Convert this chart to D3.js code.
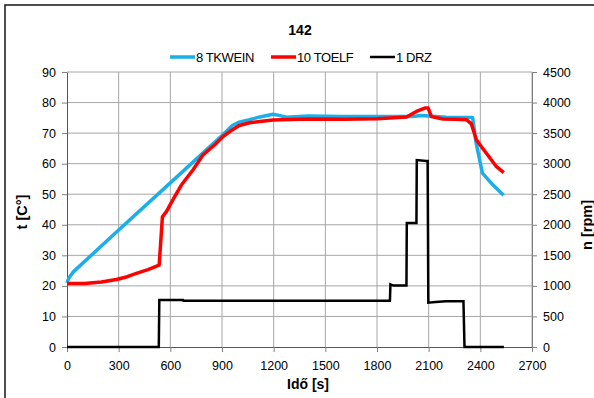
<!DOCTYPE html>
<html>
<head>
<meta charset="utf-8">
<script src="https://cdn.jsdelivr.net/npm/d3@7"></script>
<style>
  body { margin: 0; background: #fff; }
  text { font-family: "Liberation Sans", Arial, sans-serif; fill: #000; }
</style>
</head>
<body>
<div id="chart"></div>
<script>
var svgWidth = 594;
var svgHeight = 398;

var margin = { top: 72, right: 62, bottom: 51, left: 67 };
var chartWidth = 532 - margin.left;
var chartHeight = 347 - margin.top;

// time [s] and values
var tkweinTime = [0, 10, 35, 300, 600, 900, 960, 1000, 1060, 1120, 1196, 1230, 1275, 1400, 1600, 1800, 2000, 2060, 2200, 2355, 2375, 2412, 2474, 2535];
var tkweinTemp = [21, 22.5, 24.5, 38.3, 53.7, 69.2, 72.5, 73.6, 74.4, 75.3, 76.2, 75.8, 75.2, 75.6, 75.4, 75.4, 75.4, 75.8, 75.2, 75.1, 67, 56.9, 53, 49.7];

var toelfTime = [0, 100, 200, 287, 350, 403, 470, 535, 545, 554, 577, 625, 664, 732, 790, 858, 906, 945, 1000, 1060, 1120, 1196, 1400, 1600, 1800, 1900, 1971, 2029, 2077, 2097, 2116, 2183, 2250, 2319, 2348, 2377, 2435, 2494, 2536];
var toelfTemp = [20.8, 20.8, 21.3, 22.1, 23, 24.1, 25.3, 26.8, 35, 42.6, 44.3, 49.2, 53, 58, 62.9, 66.2, 68.9, 70.5, 72.5, 73.4, 73.8, 74.3, 74.6, 74.5, 74.7, 75, 75.3, 77.1, 78.2, 78.2, 75.4, 74.6, 74.5, 74.4, 73, 67.8, 63.4, 59, 57.1];

var drzTime = [0, 533, 536, 674, 676, 1875, 1878, 1895, 1971, 1973, 2029, 2031, 2087, 2094, 2098, 2140, 2200, 2302, 2308, 2537];
var drzRpm = [0, 0, 770, 770, 755, 755, 1025, 1005, 1005, 2030, 2030, 3060, 3045, 3045, 725, 735, 750, 750, 0, 0];

var xTicks = [0, 300, 600, 900, 1200, 1500, 1800, 2100, 2400, 2700];
var yTicks = [0, 10, 20, 30, 40, 50, 60, 70, 80, 90];
var rpmTicks = [0, 500, 1000, 1500, 2000, 2500, 3000, 3500, 4000, 4500];

var seriesNames = ["8 TKWEIN", "10 TOELF", "1 DRZ"];
var seriesColors = ["#1AAEEA", "#FF0000", "#000000"];

var svg = d3.select("#chart")
  .append("svg")
  .attr("width", svgWidth)
  .attr("height", svgHeight);

// outer frame (right and bottom edges fall outside the picture)
svg.append("rect")
  .attr("x", 5).attr("y", 5)
  .attr("width", 600).attr("height", 400)
  .attr("fill", "none")
  .attr("stroke", "#222")
  .attr("stroke-width", 1.6);

var chartGroup = svg.append("g")
  .attr("transform", `translate(${margin.left}, ${margin.top})`);

var xScale = d3.scaleLinear().domain([0, 2700]).range([0, chartWidth]);
var yScale = d3.scaleLinear().domain([0, 90]).range([chartHeight, 0]);
var rpmScale = d3.scaleLinear().domain([0, 4500]).range([chartHeight, 0]);

// grid
chartGroup.append("g")
  .selectAll("line")
  .data(xTicks.slice(1))
  .enter()
  .append("line")
  .attr("x1", d => xScale(d)).attr("x2", d => xScale(d))
  .attr("y1", 0).attr("y2", chartHeight)
  .attr("stroke", "#a6a6a6").attr("stroke-width", 1);

chartGroup.append("g")
  .selectAll("line")
  .data(yTicks.slice(1))
  .enter()
  .append("line")
  .attr("x1", 0).attr("x2", chartWidth)
  .attr("y1", d => yScale(d)).attr("y2", d => yScale(d))
  .attr("stroke", "#a6a6a6").attr("stroke-width", 1);

// axes
var fmt = d3.format("d");
var bottomAxis = d3.axisBottom(xScale).tickValues(xTicks).tickFormat(fmt).tickSize(5).tickPadding(9).tickSizeOuter(0);
var leftAxis = d3.axisLeft(yScale).tickValues(yTicks).tickFormat(fmt).tickSize(5).tickPadding(6).tickSizeOuter(0);
var rightAxis = d3.axisRight(rpmScale).tickValues(rpmTicks).tickFormat(fmt).tickSize(5).tickPadding(6).tickSizeOuter(0);

var xAxis = chartGroup.append("g")
  .attr("transform", `translate(0, ${chartHeight})`)
  .call(bottomAxis);
var yAxis = chartGroup.append("g").call(leftAxis);
var rAxis = chartGroup.append("g")
  .attr("transform", `translate(${chartWidth}, 0)`)
  .call(rightAxis);

[xAxis, yAxis, rAxis].forEach(a => {
  a.selectAll("path, line").attr("stroke", "#808080");
  a.selectAll("text")
    .style("font-size", "12.5px")
    .style("font-family", "'Liberation Sans', Arial, sans-serif")
    .attr("fill", "#111");
});
xAxis.select("path").attr("stroke", "#555");
yAxis.select("path").attr("stroke", "#555");

// series
var tempLine = d3.line()
  .x(d => xScale(d[0]))
  .y(d => yScale(d[1]));
var rpmLine = d3.line()
  .x(d => xScale(d[0]))
  .y(d => rpmScale(d[1]));

chartGroup.append("path")
  .datum(d3.zip(tkweinTime, tkweinTemp))
  .attr("d", tempLine)
  .attr("fill", "none")
  .attr("stroke", seriesColors[0])
  .attr("stroke-width", 3.5)
  .attr("stroke-linejoin", "round");

chartGroup.append("path")
  .datum(d3.zip(toelfTime, toelfTemp))
  .attr("d", tempLine)
  .attr("fill", "none")
  .attr("stroke", seriesColors[1])
  .attr("stroke-width", 3.5)
  .attr("stroke-linejoin", "round");

chartGroup.append("path")
  .datum(d3.zip(drzTime, drzRpm))
  .attr("d", rpmLine)
  .attr("fill", "none")
  .attr("stroke", seriesColors[2])
  .attr("stroke-width", 2.5);

// title
svg.append("text")
  .attr("x", 300).attr("y", 35)
  .attr("text-anchor", "middle")
  .style("font-size", "14px")
  .style("font-weight", "bold")
  .text("142");

// legend
var legendX = [170, 271, 370];
var legend = svg.append("g");
var items = legend.selectAll("g")
  .data(seriesNames)
  .enter()
  .append("g")
  .attr("transform", (d, i) => `translate(${legendX[i]}, 57)`);
items.append("line")
  .attr("x1", 0).attr("x2", 25)
  .attr("stroke", (d, i) => seriesColors[i])
  .attr("stroke-width", (d, i) => i === 2 ? 2.5 : 3.5);
items.append("text")
  .attr("x", 26).attr("y", 4.5)
  .style("font-size", "13px")
  .style("letter-spacing", "-0.4px")
  .text(d => d);

// axis titles
svg.append("text")
  .attr("transform", "translate(27, 212) rotate(-90)")
  .attr("text-anchor", "middle")
  .style("font-size", "14.5px")
  .style("font-weight", "bold")
  .text("t [C°]");

svg.append("text")
  .attr("transform", "translate(592, 225) rotate(-90)")
  .attr("text-anchor", "middle")
  .style("font-size", "14.5px")
  .style("font-weight", "bold")
  .text("n [rpm]");

svg.append("text")
  .attr("x", 308).attr("y", 389)
  .attr("text-anchor", "middle")
  .style("font-size", "14px")
  .style("font-weight", "bold")
  .text("Idő [s]");
</script>
</body>
</html>
